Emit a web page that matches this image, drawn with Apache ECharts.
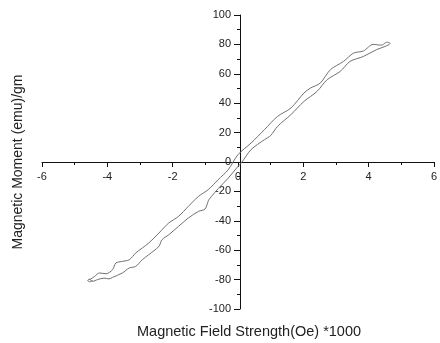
<!DOCTYPE html>
<html>
<head>
<meta charset="utf-8">
<script src="https://cdn.jsdelivr.net/npm/echarts@6/dist/echarts.min.js"></script>
<style>html,body{margin:0;padding:0;background:#fff}#c{width:440px;height:343px}</style>
</head>
<body>
<div id="c"></div>
<script>
// Ascending branch (field increasing), lower curve
const ascField = [-4.55,-4.45,-4.3,-4.1,-3.95,-3.84,-3.54,-3.33,-3.13,-2.93,-2.73,-2.42,-2.33,-2.12,-1.82,-1.52,-1.21,-1.01,-0.9,-0.81,-0.6,-0.3,0,0.1,0.4,0.81,1.0,1.21,1.62,2.02,2.42,2.73,3.13,3.43,3.84,4.24,4.5,4.65];
const ascMoment = [-79.5,-81.2,-80,-79,-79.5,-78.5,-75.5,-72.1,-71,-66.5,-63,-57.4,-53,-49.5,-43.8,-38.1,-33.6,-32,-26,-23.4,-18,-11,-3,-0.7,8.4,15.2,18,24.2,32.2,41.2,48,56,61.6,68.4,71.8,76.4,78.6,80.5];
// Descending branch (field decreasing), upper curve
const descField = [4.65,4.55,4.45,4.39,4.14,3.84,3.54,3.23,2.83,2.52,2.22,2.02,1.62,1.21,0.81,0.4,0,-0.3,-0.61,-0.91,-1.21,-1.52,-1.82,-2.12,-2.42,-2.73,-2.93,-3.13,-3.33,-3.54,-3.74,-3.84,-4.04,-4.24,-4.39,-4.5,-4.6,-4.55,-4.45];
const descMoment = [81,81.5,80,79.5,80,75.5,74.1,68.4,62.8,53.7,50.3,46.9,36.7,31,22,12.9,5,-5.3,-12.1,-18.8,-23.4,-30.2,-37,-41.5,-48.3,-55.1,-58.5,-61.9,-66.5,-67.6,-68.7,-73.3,-76,-75.5,-77.8,-79.5,-80.5,-81.5,-80.5];
const xTitle = 'Magnetic Field Strength(Oe) *1000';
const yTitle = 'Magnetic Moment (emu)/gm';

const loop = [];
ascField.forEach((x, i) => loop.push([x, ascMoment[i]]));
descField.forEach((x, i) => loop.push([x, descMoment[i]]));

const gridLeft = 42, gridRight = 2, gridTop = 15, gridBottom = 34;
const W = 440, H = 343;
const plotW = W - gridLeft - gridRight, plotH = H - gridTop - gridBottom;
// place the axes through the origin (x=0 is at the middle of -6..6, y=0 at middle of -100..100)
const yAxisOffset = -plotW / 2;
const xAxisOffset = -plotH / 2;

const chart = echarts.init(document.getElementById('c'), null, {renderer: 'canvas'});
const lbl = {color: '#222', fontSize: 11, fontFamily: 'Liberation Sans, Arial, sans-serif'};
chart.setOption({
  animation: false,
  backgroundColor: '#fff',
  grid: {left: gridLeft, right: gridRight, top: gridTop, bottom: gridBottom},
  xAxis: {
    type: 'value', min: -6, max: 6, interval: 2, position: 'bottom', offset: xAxisOffset,
    axisLine: {onZero: false, lineStyle: {color: '#111', width: 1}},
    axisTick: {show: true, length: 5, lineStyle: {color: '#111'}},
    minorTick: {show: true, splitNumber: 2, length: 3, lineStyle: {color: '#111'}},
    splitLine: {show: false},
    axisLabel: Object.assign({}, lbl, {margin: 9, showMinLabel: true, showMaxLabel: true})
  },
  yAxis: {
    type: 'value', min: -100, max: 100, interval: 20, position: 'left', offset: yAxisOffset,
    axisLine: {onZero: false, lineStyle: {color: '#111', width: 1}},
    axisTick: {show: true, length: 6, lineStyle: {color: '#111'}},
    minorTick: {show: true, splitNumber: 2, length: 3, lineStyle: {color: '#111'}},
    splitLine: {show: false},
    axisLabel: Object.assign({}, lbl, {margin: 9})
  },
  series: [{
    type: 'line', data: loop, showSymbol: false, smooth: 0.3,
    lineStyle: {color: '#707070', width: 1}
  }],
  graphic: [
    {type: 'text', left: 137, top: 324, style: {text: xTitle, fill: '#222', font: '14.5px "Liberation Sans", Arial, sans-serif'}},
    {type: 'text', x: 18, y: 162, rotation: Math.PI / 2, style: {text: yTitle, fill: '#222', font: '14px "Liberation Sans", Arial, sans-serif', textAlign: 'center', textVerticalAlign: 'middle'}}
  ]
});
</script>
</body>
</html>
